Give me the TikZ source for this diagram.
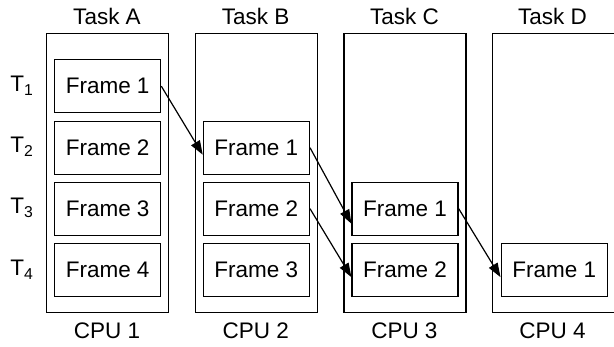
\documentclass[tikz,border=0pt]{standalone}
\usepackage{fontspec}
\setmainfont{Liberation Sans}
\usetikzlibrary{arrows.meta,calc}
\begin{document}
\begin{tikzpicture}[x=1pt,y=-1pt,
  every node/.style={font=\fontsize{22.5}{27}\selectfont, inner sep=0pt},
  column/.style={draw, line width=1.3pt, minimum width=122pt, minimum height=279pt, anchor=north west},
  framebox/.style={draw, line width=1.3pt, minimum width=106pt, minimum height=53pt, anchor=north west},
  flow/.style={line width=1.2pt, -{Triangle[length=14pt,width=10pt]}}]
\useasboundingbox (0,0) rectangle (614,346);
% columns
\node[column] (colA) at (46,33) {};
\node[column] (colB) at (194.7,33) {};
\node[column] (colC) at (343.4,33) {};
\node[column] (colD) at (491.5,33) {};
% headings
\node (tA) at (107,16) {Task A};
\node (tB) at (255.7,16) {Task B};
\node (tC) at (404.4,16) {Task C};
\node (tD) at (552.5,16) {Task D};
\node (cA) at (107,331) {CPU 1};
\node (cB) at (255.7,331) {CPU 2};
\node (cC) at (404.4,331) {CPU 3};
\node (cD) at (552.5,331) {CPU 4};
% time labels
\node (T1) at (22,86) {T\textsubscript{1}};
\node (T2) at (22,147) {T\textsubscript{2}};
\node (T3) at (22,208) {T\textsubscript{3}};
\node (T4) at (22,270) {T\textsubscript{4}};
% frames
\node[framebox] (A1) at (54,59) {Frame 1};
\node[framebox] (A2) at (54,120.5) {Frame 2};
\node[framebox] (A3) at (54,181.5) {Frame 3};
\node[framebox] (A4) at (54,243) {Frame 4};
\node[framebox] (B1) at (202.7,120.5) {Frame 1};
\node[framebox] (B2) at (202.7,181.5) {Frame 2};
\node[framebox] (B3) at (202.7,243) {Frame 3};
\node[framebox] (C1) at (351.4,181.5) {Frame 1};
\node[framebox] (C2) at (351.4,243) {Frame 2};
\node[framebox] (D1) at (500.5,243) {Frame 1};
% arrows
\draw[flow] (A1.east) -- ($(B1.west)+(0,7)$);
\draw[flow] (B1.east) -- ($(C1.west)+(0,15)$);
\draw[flow] (B2.east) -- ($(C2.west)+(0,7)$);
\draw[flow] (C1.east) -- ($(D1.west)+(0,7)$);
\end{tikzpicture}
\end{document}
